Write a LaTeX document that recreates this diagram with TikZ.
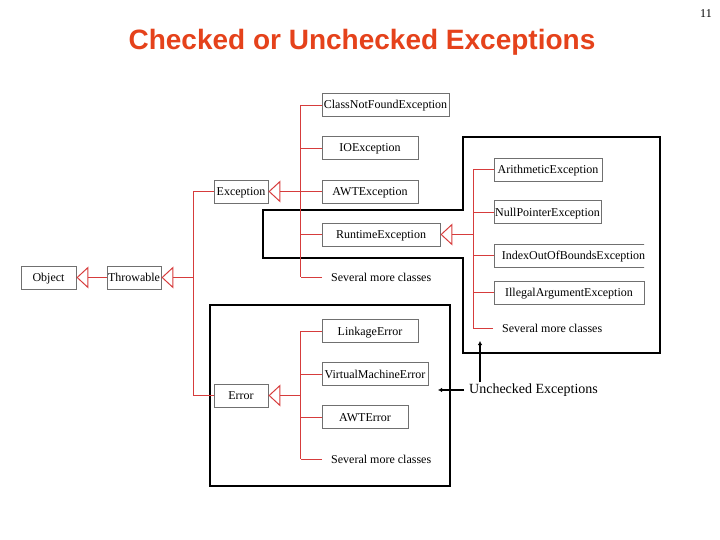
\documentclass[tikz,border=0pt]{standalone}
\usepackage{fontspec}
\setmainfont{Liberation Serif}
\newfontfamily\titlefont{Liberation Sans}
\usetikzlibrary{arrows.meta}
\definecolor{titlered}{RGB}{229,66,27}
\definecolor{linered}{RGB}{214,60,60}
\definecolor{boxgray}{RGB}{112,112,112}
\begin{document}
\begin{tikzpicture}[x=1pt,y=-1pt,
  cls/.style={draw=boxgray, line width=0.9pt, minimum height=23pt, inner sep=0pt, text height=10pt, text depth=2pt, fill=white, font=\fontsize{12}{14}\selectfont},
  more/.style={anchor=west, inner xsep=9pt, inner ysep=0pt, text height=10pt, text depth=2pt, font=\fontsize{12}{14}\selectfont},
  tree/.style={draw=linered, line width=0.9pt},
  inh/.style={tree, -{Triangle[open, length=12pt, width=22pt, line width=1pt]}},
  region/.style={draw=black, line width=2.6pt, line join=miter},
  note/.style={draw=black, line width=1.6pt, -{Latex[length=4pt, width=4.5pt]}},
]
\useasboundingbox (0,0) rectangle (720,540);

% title and page number
\node[anchor=base, text=titlered, font=\titlefont\bfseries\fontsize{28}{32}\selectfont] (title) at (362,50) {Checked or Unchecked Exceptions};
\node[anchor=base, font=\fontsize{12}{14}\selectfont] (page) at (706,18) {11};

% regions
\draw[region] (263,210) -- (463,210) -- (463,137) -- (660,137) -- (660,353) -- (463,353) -- (463,258) -- (263,258) -- cycle;
\draw[region] (210,305) rectangle (450,486);

% classes
\node[cls, minimum width=55pt] (obj) at (48.5,277.5) {Object};
\node[cls, minimum width=54pt] (thr) at (134,277.5) {Throwable};
\node[cls, minimum width=54pt] (exc) at (241,191.5) {Exception};
\node[cls, minimum width=54pt] (err) at (241,395.5) {Error};

\node[cls, minimum width=127pt] (cnf) at (385.5,105) {ClassNotFoundException};
\node[cls, minimum width=96pt] (ioe) at (370,148) {IOException};
\node[cls, minimum width=96pt] (awte) at (370,191.5) {AWTException};
\node[cls, minimum width=118pt] (rte) at (381,234.5) {RuntimeException};
\node[more] (more1) at (322,277) {Several more classes};

\node[cls, minimum width=108pt] (ari) at (548,169.5) {ArithmeticException};
\node[cls, minimum width=107pt] (npe) at (547.5,212) {NullPointerException};
\begin{scope}
  \clip (488,240) rectangle (644,272);
  \node[cls, minimum width=158pt, anchor=west] (ioob) at (494,255.5) {IndexOutOfBoundsException};
\end{scope}
\node[cls, minimum width=150pt] (iae) at (569,292.5) {IllegalArgumentException};
\node[more] (more2) at (493,328) {Several more classes};

\node[cls, minimum width=96pt] (lnk) at (370,331) {LinkageError};
\node[cls, minimum width=106pt] (vme) at (375,374) {VirtualMachineError};
\node[cls, minimum width=86pt] (awterr) at (365,417) {AWTError};
\node[more] (more3) at (322,459) {Several more classes};

% Object <- Throwable
\draw[inh] (thr.west) -- (obj.east);

% Throwable tree
\coordinate (t1top) at (193,191.5);
\coordinate (t1mid) at (193,277.5);
\coordinate (t1bot) at (193,395.5);
\draw[tree] (t1top) -- (t1bot);
\draw[tree] (exc.west) -- (t1top);
\draw[tree] (err.west) -- (t1bot);
\draw[inh] (t1mid) -- (thr.east);

% Exception tree
\coordinate (t2top) at (300.5,105);
\coordinate (t2mid) at (300.5,191.5);
\coordinate (t2bot) at (300.5,277);
\draw[tree] (t2top) -- (t2bot);
\draw[tree] (cnf.west) -- (cnf.west -| t2top);
\draw[tree] (ioe.west) -- (ioe.west -| t2top);
\draw[tree] (awte.west) -- (awte.west -| t2top);
\draw[tree] (rte.west) -- (rte.west -| t2top);
\draw[tree] (more1.west) -- (t2bot);
\draw[inh] (t2mid) -- (exc.east);

% RuntimeException tree
\coordinate (t3top) at (473,169.5);
\coordinate (t3mid) at (473,234.5);
\coordinate (t3bot) at (473,328);
\draw[tree] (t3top) -- (t3bot);
\draw[tree] (ari.west) -- (t3top);
\draw[tree] (npe.west) -- (npe.west -| t3top);
\draw[tree] (ioob.west) -- (ioob.west -| t3top);
\draw[tree] (iae.west) -- (iae.west -| t3top);
\draw[tree] (more2.west) -- (t3bot);
\draw[inh] (t3mid) -- (rte.east);

% Error tree
\coordinate (t4top) at (300.5,331);
\coordinate (t4mid) at (300.5,395.5);
\coordinate (t4bot) at (300.5,459);
\draw[tree] (t4top) -- (t4bot);
\draw[tree] (lnk.west) -- (t4top);
\draw[tree] (vme.west) -- (vme.west -| t4top);
\draw[tree] (awterr.west) -- (awterr.west -| t4top);
\draw[tree] (more3.west) -- (t4bot);
\draw[inh] (t4mid) -- (err.east);

% Unchecked label
\node[anchor=west, inner sep=0pt, font=\fontsize{14}{16}\selectfont] (unc) at (469,390) {Unchecked Exceptions};
\coordinate (uleft) at (438,390);
\coordinate (uup) at (480,341);
\coordinate (ustart) at (480,382);
\draw[note] (464,390) -- (uleft);
\draw[note] (ustart) -- (uup);
\end{tikzpicture}
\end{document}
